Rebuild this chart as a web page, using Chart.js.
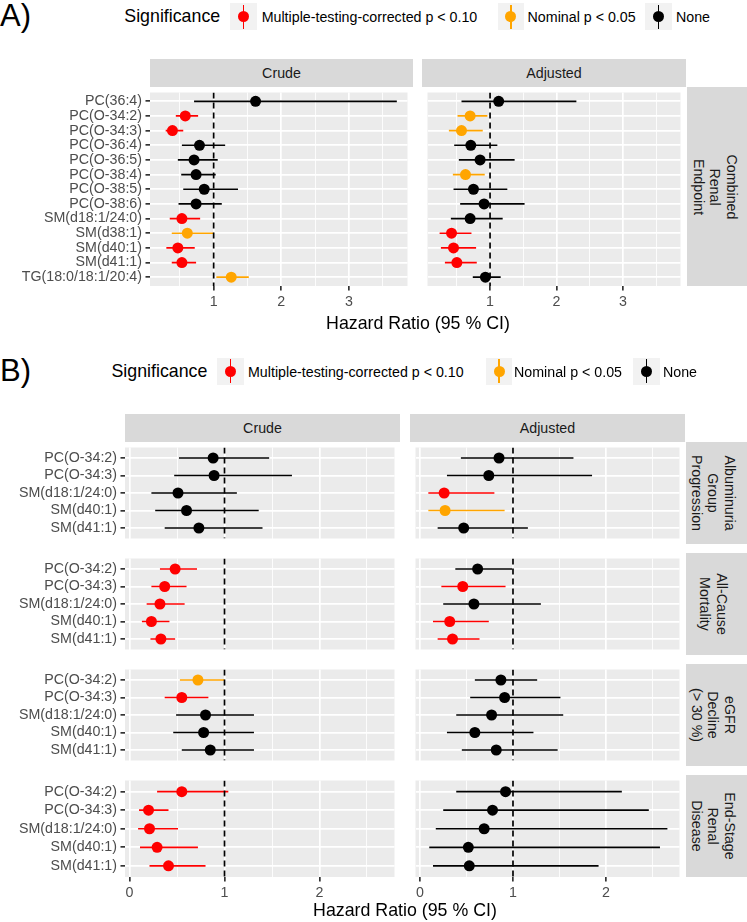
<!DOCTYPE html>
<html><head><meta charset="utf-8">
<script src="https://cdn.jsdelivr.net/npm/chart.js@4.4.1/dist/chart.umd.min.js"></script>
<style>
html,body{margin:0;padding:0;background:#fff;}
body{width:747px;height:922px;position:relative;overflow:hidden;font-family:"Liberation Sans",Arial,Helvetica,sans-serif;}
.t{position:absolute;white-space:nowrap;}
canvas{position:absolute;}
.box{position:absolute;}
</style></head><body>
<script>
// ---------------- DATA ----------------
// Panel A: Combined Renal Endpoint
const lipidsA = ['PC(36:4)','PC(O-34:2)','PC(O-34:3)','PC(O-36:4)','PC(O-36:5)','PC(O-38:4)','PC(O-38:5)','PC(O-38:6)','SM(d18:1/24:0)','SM(d38:1)','SM(d40:1)','SM(d41:1)','TG(18:0/18:1/20:4)'];
const crudeA_HR    = [1.62,0.58,0.39,0.79,0.71,0.74,0.86,0.74,0.53,0.61,0.47,0.53,1.26];
const crudeA_lower = [0.71,0.44,0.29,0.53,0.47,0.52,0.55,0.48,0.35,0.38,0.30,0.38,1.04];
const crudeA_upper = [3.71,0.77,0.55,1.17,1.06,1.03,1.36,1.12,0.80,1.00,0.72,0.74,1.52];
const crudeA_sig   = ['none','mt','mt','none','none','none','none','none','mt','nom','mt','mt','nom'];
const adjA_HR      = [1.13,0.70,0.57,0.71,0.85,0.63,0.75,0.91,0.70,0.42,0.45,0.50,0.93];
const adjA_lower   = [0.57,0.51,0.38,0.46,0.53,0.44,0.45,0.55,0.41,0.24,0.26,0.32,0.74];
const adjA_upper   = [2.30,0.96,0.89,1.11,1.37,0.92,1.26,1.52,1.19,0.72,0.79,0.80,1.16];
const adjA_sig     = ['none','nom','nom','none','none','nom','none','none','none','mt','mt','mt','none'];
const endpointA    = ['Combined','Renal','Endpoint'];

// Panel B: four endpoints x five lipids
const lipidsB = ['PC(O-34:2)','PC(O-34:3)','SM(d18:1/24:0)','SM(d40:1)','SM(d41:1)'];
const endpointsB = [['Albuminuria','Group','Progression'],['All-Cause','Mortality'],['eGFR','Decline','(> 30 %)'],['End-Stage','Renal','Disease']];
const crudeB_HR    = [[0.88,0.89,0.51,0.60,0.73],[0.48,0.37,0.32,0.23,0.33],[0.72,0.55,0.80,0.78,0.85],[0.55,0.20,0.21,0.29,0.41]];
const crudeB_lower = [[0.52,0.47,0.23,0.27,0.37],[0.32,0.23,0.18,0.13,0.22],[0.53,0.37,0.49,0.46,0.55],[0.29,0.10,0.09,0.11,0.21]];
const crudeB_upper = [[1.47,1.71,1.13,1.36,1.40],[0.71,0.60,0.58,0.42,0.48],[1.00,0.83,1.31,1.31,1.31],[1.04,0.41,0.51,0.72,0.80]];
const crudeB_sig   = [['none','none','none','none','none'],['mt','mt','mt','mt','mt'],['nom','mt','none','none','none'],['mt','mt','mt','mt','mt']];
const adjB_HR      = [[0.85,0.74,0.26,0.27,0.47],[0.62,0.46,0.58,0.32,0.35],[0.87,0.91,0.77,0.59,0.82],[0.92,0.78,0.69,0.52,0.53]];
const adjB_lower   = [[0.44,0.29,0.09,0.09,0.19],[0.38,0.23,0.25,0.14,0.19],[0.59,0.54,0.39,0.29,0.45],[0.39,0.25,0.17,0.10,0.14]];
const adjB_upper   = [[1.65,1.85,0.80,0.91,1.16],[0.99,0.92,1.30,0.74,0.64],[1.26,1.51,1.54,1.22,1.48],[2.17,2.46,2.66,2.58,1.92]];
const adjB_sig     = [['none','none','mt','nom','none'],['none','mt','none','mt','mt'],['none','none','none','none','none'],['none','none','none','none','none']];

// Ticks / gridlines / reference
const ticksA = [1,2,3];
const gridA  = [0.5,1,1.5,2,2.5,3,3.5];
const ticksB = [0,1,2];
const gridB  = [0,0.5,1,1.5,2,2.5];
const REF_HR = 1;
const sigKeys   = ['mt','nom','none'];
const sigLabels = ['Multiple-testing-corrected p < 0.10','Nominal p < 0.05','None'];
const sigColors = {mt:'#ff0000', nom:'#ffa500', none:'#000000'};

// ---------------- STYLE / LAYOUT ----------------
const FONT = '"Liberation Sans", Arial, Helvetica, sans-serif';
Chart.defaults.font.family = FONT;
const BIG = 17.8, SMALL = 14.24;
const LW = 1.7, LW_MINOR = 0.85;

function text(str, x, cy, size, color, align) {
  const d = document.createElement('div');
  d.className = 't';
  d.textContent = str;
  d.style.fontSize = size + 'px';
  d.style.lineHeight = size + 'px';
  d.style.top = (cy - size / 2) + 'px';
  d.style.left = x + 'px';
  d.style.color = color || '#000';
  if (align === 'center') d.style.transform = 'translateX(-50%)';
  document.body.appendChild(d);
}
function rect(x, y, w, h, bg) {
  const d = document.createElement('div');
  d.className = 'box';
  d.style.cssText += `left:${x}px;top:${y}px;width:${w}px;height:${h}px;background:${bg};`;
  document.body.appendChild(d);
  return d;
}
function key(x, cy, color) {
  const s = 26.7;
  const k = rect(x, cy - s / 2, s, s, '#f2f2f2');
  const l = document.createElement('div');
  l.style.cssText = `position:absolute;left:${(s - LW) / 2}px;top:1.5px;width:${LW}px;height:${s - 3}px;background:${color};`;
  const c = document.createElement('div');
  c.style.cssText = `position:absolute;left:${(s - 11) / 2}px;top:${(s - 11) / 2}px;width:11px;height:11px;border-radius:50%;background:${color};`;
  k.appendChild(l); k.appendChild(c);
}
function legend(cy, titleX, keyX, labelX) {
  text('Significance', titleX, cy, BIG, '#000');
  sigKeys.forEach((s, i) => {
    key(keyX[i], cy - 0.5, sigColors[s]);
    text(sigLabels[i], labelX[i], cy, SMALL, '#000');
  });
}
function topStrip(x, y, w, h, label) {
  rect(x, y, w, h, '#d9d9d9');
  text(label, x + w / 2, y + h / 2, SMALL, '#1a1a1a', 'center');
}
function rightStrip(x, y, w, h, lines, cx) {
  rect(x, y, w, h, '#d9d9d9');
  const d = document.createElement('div');
  d.className = 't';
  d.style.cssText += `left:${cx}px;top:${y + h / 2}px;width:${h}px;text-align:center;font-size:${SMALL}px;line-height:16.7px;color:#1a1a1a;transform:translate(-50%,-50%) rotate(90deg);`;
  d.innerHTML = lines.map(s => s.replace(/&/g,'&amp;').replace(/</g,'&lt;').replace(/>/g,'&gt;')).join('<br>');
  document.body.appendChild(d);
}

const bgPlugin = {
  id: 'panelBg',
  beforeDraw(chart) {
    const {ctx, chartArea: a} = chart;
    ctx.save();
    ctx.fillStyle = '#ebebeb';
    ctx.fillRect(a.left, a.top, a.right - a.left, a.bottom - a.top);
    ctx.restore();
  }
};

function panel(o) {
  const cv = document.createElement('canvas');
  const W = o.w + o.yw, H = o.h + o.xh;
  cv.width = W; cv.height = H;
  cv.style.left = (o.x - o.yw) + 'px';
  cv.style.top = o.y + 'px';
  document.body.appendChild(cv);
  const n = o.cats.length;
  const cols = o.sig.map(s => sigColors[s]);
  const datasets = [];
  datasets.push({
    type: 'scatter', order: 0,
    data: o.est.map((v, i) => ({x: v, y: i})),
    pointRadius: 5.5, pointHoverRadius: 5.5, pointBorderWidth: 0,
    pointBackgroundColor: cols, pointBorderColor: cols
  });
  datasets.push({
    type: 'line', order: 1,
    data: [{x: REF_HR, y: -0.6}, {x: REF_HR, y: n - 0.4}],
    borderColor: '#000', borderWidth: LW, borderDash: [6, 4], pointRadius: 0, fill: false
  });
  o.lo.forEach((lo, i) => {
    datasets.push({
      type: 'line', order: 2,
      data: [{x: lo, y: i}, {x: o.hi[i], y: i}],
      borderColor: cols[i], borderWidth: LW, pointRadius: 0, fill: false
    });
  });
  const isMajor = v => o.majors.some(m => Math.abs(m - v) < 1e-9);
  new Chart(cv, {
    type: 'scatter',
    data: {datasets},
    options: {
      responsive: false, animation: false, events: [],
      layout: {padding: 0},
      plugins: {legend: {display: false}, tooltip: {enabled: false}},
      scales: {
        x: {
          type: 'linear', position: 'bottom', min: o.xr[0], max: o.xr[1],
          afterBuildTicks: s => { s.ticks = o.grid.map(v => ({value: v})); },
          afterFit: s => { s.height = o.xh; s.paddingLeft = 0; s.paddingRight = 0; },
          border: {display: false},
          grid: {
            color: '#ffffff',
            lineWidth: c => isMajor(c.tick.value) ? LW : LW_MINOR,
            drawTicks: o.showX, tickLength: 4.5,
            tickWidth: LW,
            tickColor: c => isMajor(c.tick.value) ? '#333333' : 'rgba(0,0,0,0)'
          },
          ticks: {
            display: o.showX, autoSkip: false, maxRotation: 0, padding: 3.5,
            color: '#4d4d4d', font: {family: FONT, size: SMALL},
            callback: v => isMajor(v) ? String(v) : ''
          }
        },
        y: {
          type: 'linear', reverse: true, min: -0.6, max: n - 0.4,
          afterBuildTicks: s => { s.ticks = o.cats.map((c, i) => ({value: i})); },
          afterFit: s => { s.width = o.yw; s.paddingTop = 0; s.paddingBottom = 0; },
          border: {display: false},
          grid: {color: '#ffffff', lineWidth: LW, drawTicks: o.showY, tickLength: 4.5, tickWidth: LW, tickColor: '#333333'},
          ticks: {
            display: o.showY, autoSkip: false, padding: 3.5,
            color: '#4d4d4d', font: {family: FONT, size: SMALL},
            callback: v => o.cats[v]
          }
        }
      }
    },
    plugins: [bgPlugin]
  });
}

// ---------------- PANEL A ----------------
text('A)', 0, 15.5, 31, '#000');
legend(17.3, 124.3, [230, 497.6, 645], [261.7, 527.6, 676]);
const xrA = [0.058, 3.868];
topStrip(150, 59, 263, 28, 'Crude');
topStrip(422, 59, 264, 28, 'Adjusted');
panel({x:150, y:87, w:263, h:199, yw:150, xh:28, cats:lipidsA, est:crudeA_HR, lo:crudeA_lower, hi:crudeA_upper, sig:crudeA_sig, xr:xrA, grid:gridA, majors:ticksA, showY:true, showX:true});
panel({x:422, y:87, w:264, h:199, yw:0, xh:28, cats:lipidsA, est:adjA_HR, lo:adjA_lower, hi:adjA_upper, sig:adjA_sig, xr:xrA, grid:gridA, majors:ticksA, showY:false, showX:true});
rightStrip(687, 87, 60, 199, endpointA, 715);
text('Hazard Ratio (95 % CI)', 418, 324, BIG, '#000', 'center');

// ---------------- PANEL B ----------------
text('B)', 0, 370.5, 31, '#000');
legend(371.7, 111.5, [217, 485.7, 633], [248, 514, 663]);
const xrB = [-0.048, 2.79];
topStrip(125, 414, 275, 28, 'Crude');
topStrip(410, 414, 275, 28, 'Adjusted');
endpointsB.forEach((ep, e) => {
  const y = 442 + e * 111, last = e === endpointsB.length - 1;
  panel({x:125, y, w:275, h:102, yw:125, xh: last ? 28 : 0, cats:lipidsB, est:crudeB_HR[e], lo:crudeB_lower[e], hi:crudeB_upper[e], sig:crudeB_sig[e], xr:xrB, grid:gridB, majors:ticksB, showY:true, showX:last});
  panel({x:410, y, w:275, h:102, yw:0, xh: last ? 28 : 0, cats:lipidsB, est:adjB_HR[e], lo:adjB_lower[e], hi:adjB_upper[e], sig:adjB_sig[e], xr:xrB, grid:gridB, majors:ticksB, showY:false, showX:last});
  rightStrip(686, y, 61, 102, ep, 713);
});
text('Hazard Ratio (95 % CI)', 405, 911, BIG, '#000', 'center');
</script>
</body></html>
